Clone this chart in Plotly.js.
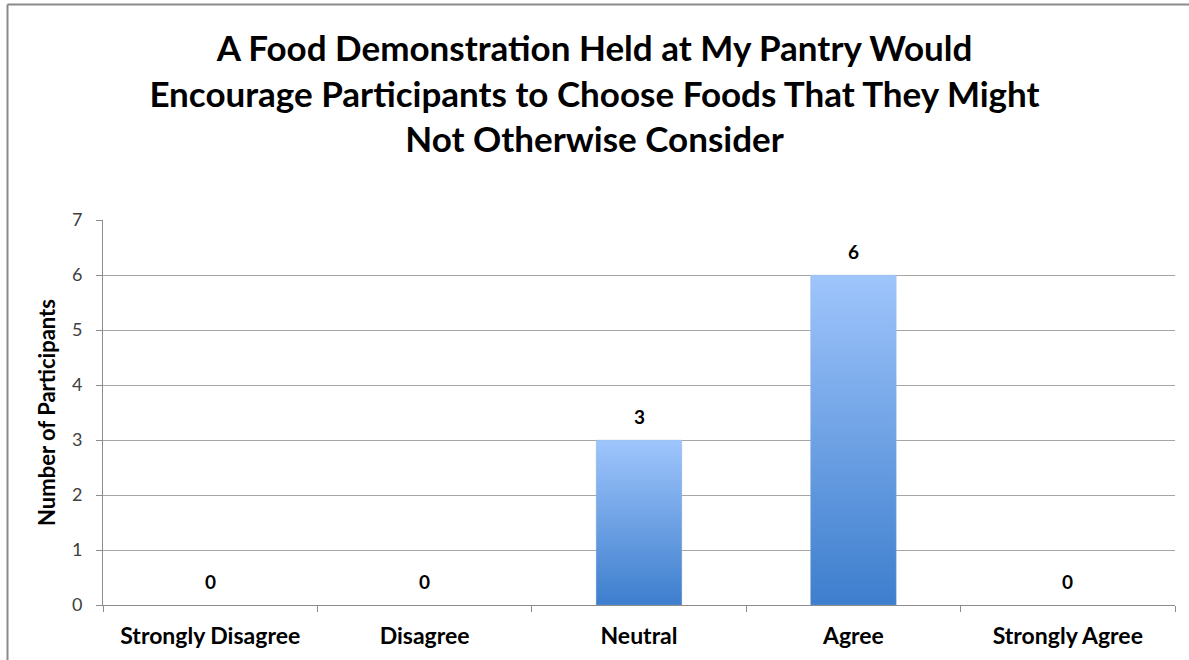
<!DOCTYPE html>
<html>
<head>
<meta charset="utf-8">
<script src="https://cdn.plot.ly/plotly-3.0.1.min.js"></script>
<style>
html,body{margin:0;padding:0;background:#fff;}
#chart{width:1189px;height:660px;}
</style>
</head>
<body>
<div id="chart"></div>
<script>
const categories = ["Strongly Disagree", "Disagree", "Neutral", "Agree", "Strongly Agree"];
const counts = [0, 0, 3, 6, 0];
const titleText = "A Food Demonstration Held at My Pantry Would<br>Encourage Participants to Choose Foods That They Might<br>Not Otherwise Consider";
const yTitle = "Number of Participants";

const W = 1189, H = 660;
const M = {l: 103, r: 14, t: 220, b: 55};
const barHalf = 0.2;
const FONT = 'Lato, "Open Sans", sans-serif';

const traces = [];
counts.forEach((v, i) => {
  if (v <= 0) return;
  traces.push({
    type: 'scatter', mode: 'lines',
    x: [i - barHalf, i + barHalf, i + barHalf, i - barHalf, i - barHalf],
    y: [0, 0, v, v, 0],
    fill: 'toself',
    fillgradient: {type: 'vertical', colorscale: [[0, '#3D7ECD'], [1, '#9FC5FC']]},
    line: {width: 0.5, color: 'rgba(160,180,210,0.6)'},
    hoverinfo: 'skip', showlegend: false
  });
});

const annotations = counts.map((v, i) => ({
  x: i, y: v, xref: 'x', yref: 'y',
  text: String(v), showarrow: false,
  yshift: 24,
  font: {family: FONT, size: 19, color: '#000', weight: 'bold'}
}));

// outer frame lines (pixel -> paper conversion)
const pw = W - M.l - M.r, ph = H - M.t - M.b;
const px = x => (x - M.l) / pw;
const py = y => (H - M.b - y) / ph;
const shapes = [
  {type: 'line', xref: 'paper', yref: 'paper', x0: px(7.5), x1: px(7.5), y0: py(4.5), y1: py(660), line: {color: '#8a8a8a', width: 2}},
  {type: 'line', xref: 'paper', yref: 'paper', x0: px(7.5), x1: px(1189), y0: py(4.5), y1: py(4.5), line: {color: '#8a8a8a', width: 2}}
];

const layout = {
  width: W, height: H,
  margin: M,
  paper_bgcolor: '#fff', plot_bgcolor: '#fff',
  showlegend: false,
  title: {
    text: titleText,
    font: {family: FONT, size: 35, color: '#000', weight: 'bold'},
    x: 0.5, xanchor: 'center', xref: 'container',
    y: 1 - 61 / H, yanchor: 'top', yref: 'container'
  },
  xaxis: {
    range: [-0.5, 4.5],
    tickmode: 'array', tickvals: categories.map((c, i) => i), ticktext: categories,
    ticks: '', showgrid: false, zeroline: false,
    showline: true, linecolor: '#8c8c8c', linewidth: 1,
    ticklabelstandoff: 10,
    tickfont: {family: FONT, size: 23, color: '#000', weight: 'bold'},
    minor: {tickmode: 'array', tickvals: [-0.5, 0.5, 1.5, 2.5, 3.5, 4.5], ticks: 'outside', ticklen: 6, tickcolor: '#8c8c8c', tickwidth: 1, showgrid: false},
    fixedrange: true
  },
  yaxis: {
    range: [0, 7], dtick: 1, tick0: 0,
    showgrid: true, gridcolor: '#a6a6a6', gridwidth: 1,
    zeroline: false,
    showline: true, linecolor: '#8c8c8c', linewidth: 1,
    ticks: 'outside', ticklen: 6, tickcolor: '#8c8c8c',
    ticklabelstandoff: 10,
    tickfont: {family: FONT, size: 18, color: '#404040'},
    title: {text: yTitle, standoff: 10, font: {family: FONT, size: 22, color: '#000', weight: 'bold'}},
    fixedrange: true
  },
  annotations: annotations,
  shapes: shapes
};

Plotly.newPlot('chart', traces, layout, {displayModeBar: false, staticPlot: true});
</script>
</body>
</html>
